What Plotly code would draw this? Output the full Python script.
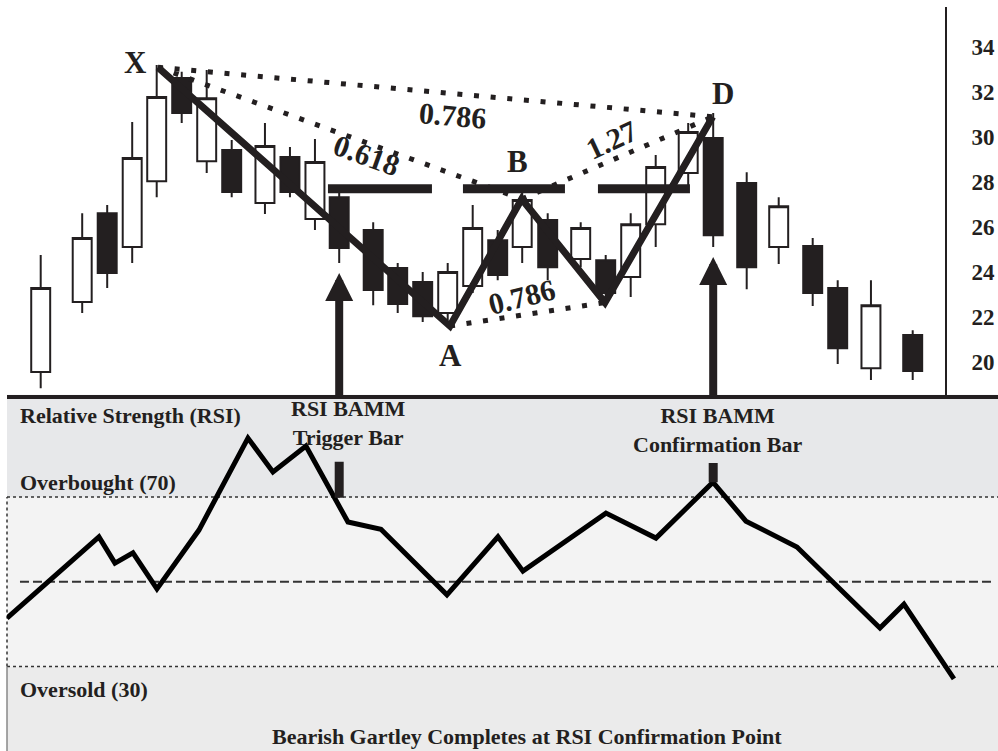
import plotly.graph_objects as go

INK = "#231f20"
FONT = "Liberation Serif"

# ---------------- data ----------------
# bar positions (session units, irregular spacing as in the drawing)
bar_pos = [0.00, 1.66, 2.66, 3.66, 4.64, 5.64, 6.64, 7.64, 8.97, 9.97, 10.97, 11.94,
           13.30, 14.28, 15.28, 16.28, 17.28, 18.28, 19.26, 20.28, 21.60, 22.60, 23.60,
           24.60, 25.90, 26.90, 28.24, 29.52, 30.88, 31.88, 33.21, 34.88]
opens = [19.56, 22.67, 26.62, 25.11, 28.04, 32.62, 28.93, 29.42, 27.07, 29.11, 26.36, 27.33,
         25.87, 24.18, 23.56, 22.18, 23.38, 25.42, 25.11, 26.31, 24.58, 24.53, 23.78,
         26.13, 28.40, 29.96, 27.96, 25.11, 25.16, 23.29, 19.73, 21.20]
highs = [24.76, 26.62, 26.98, 30.67, 33.20, 32.90, 32.98, 29.87, 30.62, 29.56, 29.91, 27.56,
         26.22, 24.40, 24.00, 24.40, 26.98, 25.87, 27.78, 26.62, 26.22, 24.76, 26.62,
         29.20, 30.62, 31.07, 28.44, 27.33, 25.51, 23.64, 23.64, 21.42]
lows = [18.84, 22.18, 23.29, 24.40, 27.33, 30.62, 28.40, 27.33, 26.58, 27.33, 25.87, 24.40,
        22.53, 22.18, 21.78, 21.87, 23.07, 23.64, 24.40, 23.64, 24.22, 22.76, 22.89,
        25.11, 27.87, 25.11, 23.24, 24.36, 22.49, 19.91, 19.20, 19.20]
closes = [23.29, 25.51, 23.96, 29.07, 31.78, 31.07, 31.73, 27.56, 29.60, 27.56, 28.89, 25.07,
          23.20, 22.58, 22.04, 24.00, 25.96, 23.87, 27.20, 24.22, 25.96, 23.07, 26.13,
          28.67, 30.22, 25.64, 24.22, 26.93, 23.07, 20.62, 22.53, 19.60]

price_ticks = [20, 22, 24, 26, 28, 30, 32, 34]

# Gartley XABCD pivots
pattern_names = ["X", "A", "B", "C", "D"]
pattern_pos = [4.69, 16.37, 19.24, 22.57, 26.88]
pattern_price = [33.10, 21.60, 27.25, 22.65, 30.90]

# pivot letter labels (shown for X, A, B, D)
letter_text = ["X", "A", "B", "D"]
letter_pos = [3.81, 16.41, 19.09, 27.31]
letter_price = [33.30, 20.30, 28.90, 31.95]

# fibonacci ratio legs (pivot index pairs) and their labels
ratio_legs = [(0, 2), (0, 4), (2, 4), (1, 3)]
ratio_text = ["0.618", "0.786", "1.27", "0.786"]
ratio_pos = [13.07, 16.51, 22.85, 19.27]
ratio_price = [29.20, 30.98, 29.91, 22.91]
ratio_angle = [20, 5, -25, -14]

# B-level dashed horizontal
b_level = 27.70
b_level_segments = [(11.49, 15.65), (16.89, 20.97), (22.29, 25.97)]

# RSI BAMM bars
trigger_pos, trigger_tip = 11.94, 23.96
confirm_pos, confirm_tip = 26.90, 24.67
trigger_rsi = (78.3, 69.8)
confirm_rsi = (78.0, 73.5)

# RSI series
rsi_pos = [-1.35, 2.33, 2.97, 3.69, 4.65, 6.33, 8.29, 9.29, 10.61, 12.29, 13.61, 16.25,
           18.29, 19.29, 22.61, 24.61, 26.89, 28.21, 30.25, 33.57, 34.53, 36.53]
rsi_vals = [41.4, 60.6, 54.4, 56.8, 48.3, 62.2, 83.9, 75.9, 82.0, 64.1, 62.4, 46.9,
            60.6, 52.5, 66.2, 60.3, 73.5, 64.3, 58.2, 39.1, 44.7, 27.1]
rsi_overbought, rsi_mid, rsi_oversold = 70, 50, 30

# axis ranges
x_range = [-1.348, 38.292]
price_range = [18.56, 35.78]
rsi_range = [10.06, 94.19]

# ---------------- figure ----------------
fig = go.Figure()

fig.add_trace(go.Candlestick(
    x=bar_pos, open=opens, high=highs, low=lows, close=closes,
    increasing=dict(line=dict(color=INK, width=2), fillcolor="white"),
    decreasing=dict(line=dict(color=INK, width=2), fillcolor=INK),
    whiskerwidth=0, showlegend=False, hoverinfo="skip",
    xaxis="x", yaxis="y"))

# dotted fibonacci legs
for i, j in ratio_legs:
    fig.add_trace(go.Scatter(
        x=[pattern_pos[i], pattern_pos[j]], y=[pattern_price[i], pattern_price[j]],
        mode="lines", line=dict(color=INK, width=5, dash="5px,11.7px"),
        showlegend=False, hoverinfo="skip", xaxis="x", yaxis="y"))

# B level
bx, by = [], []
for a, b in b_level_segments:
    bx += [a, b, None]
    by += [b_level, b_level, None]
fig.add_trace(go.Scatter(x=bx, y=by, mode="lines", line=dict(color=INK, width=9),
                         showlegend=False, hoverinfo="skip", xaxis="x", yaxis="y"))

# XABCD line
fig.add_trace(go.Scatter(x=pattern_pos, y=pattern_price, mode="lines",
                         line=dict(color=INK, width=7),
                         showlegend=False, hoverinfo="skip", xaxis="x", yaxis="y"))

# RSI
fig.add_trace(go.Scatter(x=rsi_pos, y=rsi_vals, mode="lines",
                         line=dict(color="black", width=5),
                         showlegend=False, hoverinfo="skip", xaxis="x", yaxis="y2"))
for p, (t, b) in [(trigger_pos, trigger_rsi), (confirm_pos, confirm_rsi)]:
    fig.add_trace(go.Scatter(x=[p, p], y=[t, b], mode="lines",
                             line=dict(color=INK, width=9),
                             showlegend=False, hoverinfo="skip", xaxis="x", yaxis="y2"))

# RSI panel background zones & guides
shapes = [
    dict(type="rect", xref="x domain", yref="y2", x0=0, x1=1, y0=rsi_overbought, y1=rsi_range[1],
         fillcolor="#e7e8ea", line=dict(width=0), layer="below"),
    dict(type="rect", xref="x domain", yref="y2", x0=0, x1=1, y0=rsi_oversold, y1=rsi_overbought,
         fillcolor="#f3f3f3", line=dict(width=0), layer="below"),
    dict(type="rect", xref="x domain", yref="y2", x0=0, x1=1, y0=rsi_range[0], y1=rsi_oversold,
         fillcolor="#ebebeb", line=dict(width=0), layer="below"),
    dict(type="line", xref="x domain", yref="y2", x0=0, x1=1, y0=rsi_overbought, y1=rsi_overbought,
         line=dict(color="#333333", width=1.5, dash="dot"), layer="below"),
    dict(type="line", xref="x domain", yref="y2", x0=0, x1=1, y0=rsi_oversold, y1=rsi_oversold,
         line=dict(color="#333333", width=1.5, dash="dot"), layer="below"),
    dict(type="line", xref="x domain", yref="y2", x0=0, x1=0, y0=rsi_oversold, y1=rsi_overbought,
         line=dict(color="#333333", width=1.5, dash="dot"), layer="below"),
    dict(type="line", xref="x domain", yref="y2", x0=0, x1=0, y0=rsi_range[0], y1=rsi_oversold,
         line=dict(color="#888888", width=1.5), layer="below"),
    dict(type="line", xref="x domain", yref="y2", x0=0.0131, x1=0.994, y0=rsi_mid, y1=rsi_mid,
         line=dict(color="#333333", width=2, dash="9px,4px"), layer="below"),
]

annotations = []
for t, x, y in zip(letter_text, letter_pos, letter_price):
    annotations.append(dict(x=x, y=y, xref="x", yref="y", text=f"<b>{t}</b>", showarrow=False,
                            font=dict(family=FONT, size=31, color=INK)))
for t, x, y, a in zip(ratio_text, ratio_pos, ratio_price, ratio_angle):
    annotations.append(dict(x=x, y=y, xref="x", yref="y", text=f"<b>{t}</b>", showarrow=False,
                            textangle=a, font=dict(family=FONT, size=30, color=INK)))
# arrows
for p, tip in [(trigger_pos, trigger_tip), (confirm_pos, confirm_tip)]:
    annotations.append(dict(x=p, y=tip, xref="x", yref="y", ax=p, ay=price_range[0] - 0.15,
                            axref="x", ayref="y", text="", showarrow=True,
                            arrowhead=2, arrowsize=0.7, arrowwidth=8, arrowcolor=INK, standoff=0))

panel_texts = [
    ("Relative Strength (RSI)", 18 / 998, 1 - 415 / 751, "left"),
    ("Overbought (70)", 18 / 998, 1 - 482 / 751, "left"),
    ("Oversold (30)", 18 / 998, 1 - 689 / 751, "left"),
    ("RSI BAMM<br>Trigger Bar", 348.5 / 998, 1 - 423 / 751, "center"),
    ("RSI BAMM<br>Confirmation Bar", 718 / 998, 1 - 430 / 751, "center"),
    ("Bearish Gartley Completes at RSI Confirmation Point", 526.5 / 998, 1 - 736 / 751, "center"),
]
for t, x, y, anc in panel_texts:
    annotations.append(dict(x=x, y=y, xref="paper", yref="paper", text=f"<b>{t}</b>",
                            showarrow=False, xanchor=anc, yanchor="middle", align="center",
                            font=dict(family=FONT, size=22, color=INK)))

fig.update_layout(
    width=998, height=751, margin=dict(l=0, r=0, t=0, b=0),
    paper_bgcolor="white", plot_bgcolor="white", showlegend=False,
    boxgap=0.15, boxgroupgap=0.08,
    xaxis=dict(domain=[7 / 998, 1], range=x_range, anchor="y", showline=True, linecolor=INK,
               linewidth=4, showticklabels=False, ticks="", showgrid=False, zeroline=False,
               rangeslider=dict(visible=False), fixedrange=True),
    yaxis=dict(domain=[1 - 394.5 / 751, 1 - 7 / 751], range=price_range, side="right",
               anchor="free", position=946 / 998, showline=True, linecolor=INK, linewidth=2,
               ticks="", ticklabelstandoff=20, tickvals=price_ticks,
               tickfont=dict(family=FONT, size=23, color=INK, weight="bold"),
               showgrid=False, zeroline=False, fixedrange=True),
    yaxis2=dict(domain=[0, 1 - 394.5 / 751], range=rsi_range, anchor="x", visible=False,
                showgrid=False, zeroline=False, fixedrange=True),
    shapes=shapes, annotations=annotations,
)

fig.write_html("out.html", config={"displayModeBar": False},
               post_script="document.body.style.margin='0';document.body.style.overflow='hidden';")
